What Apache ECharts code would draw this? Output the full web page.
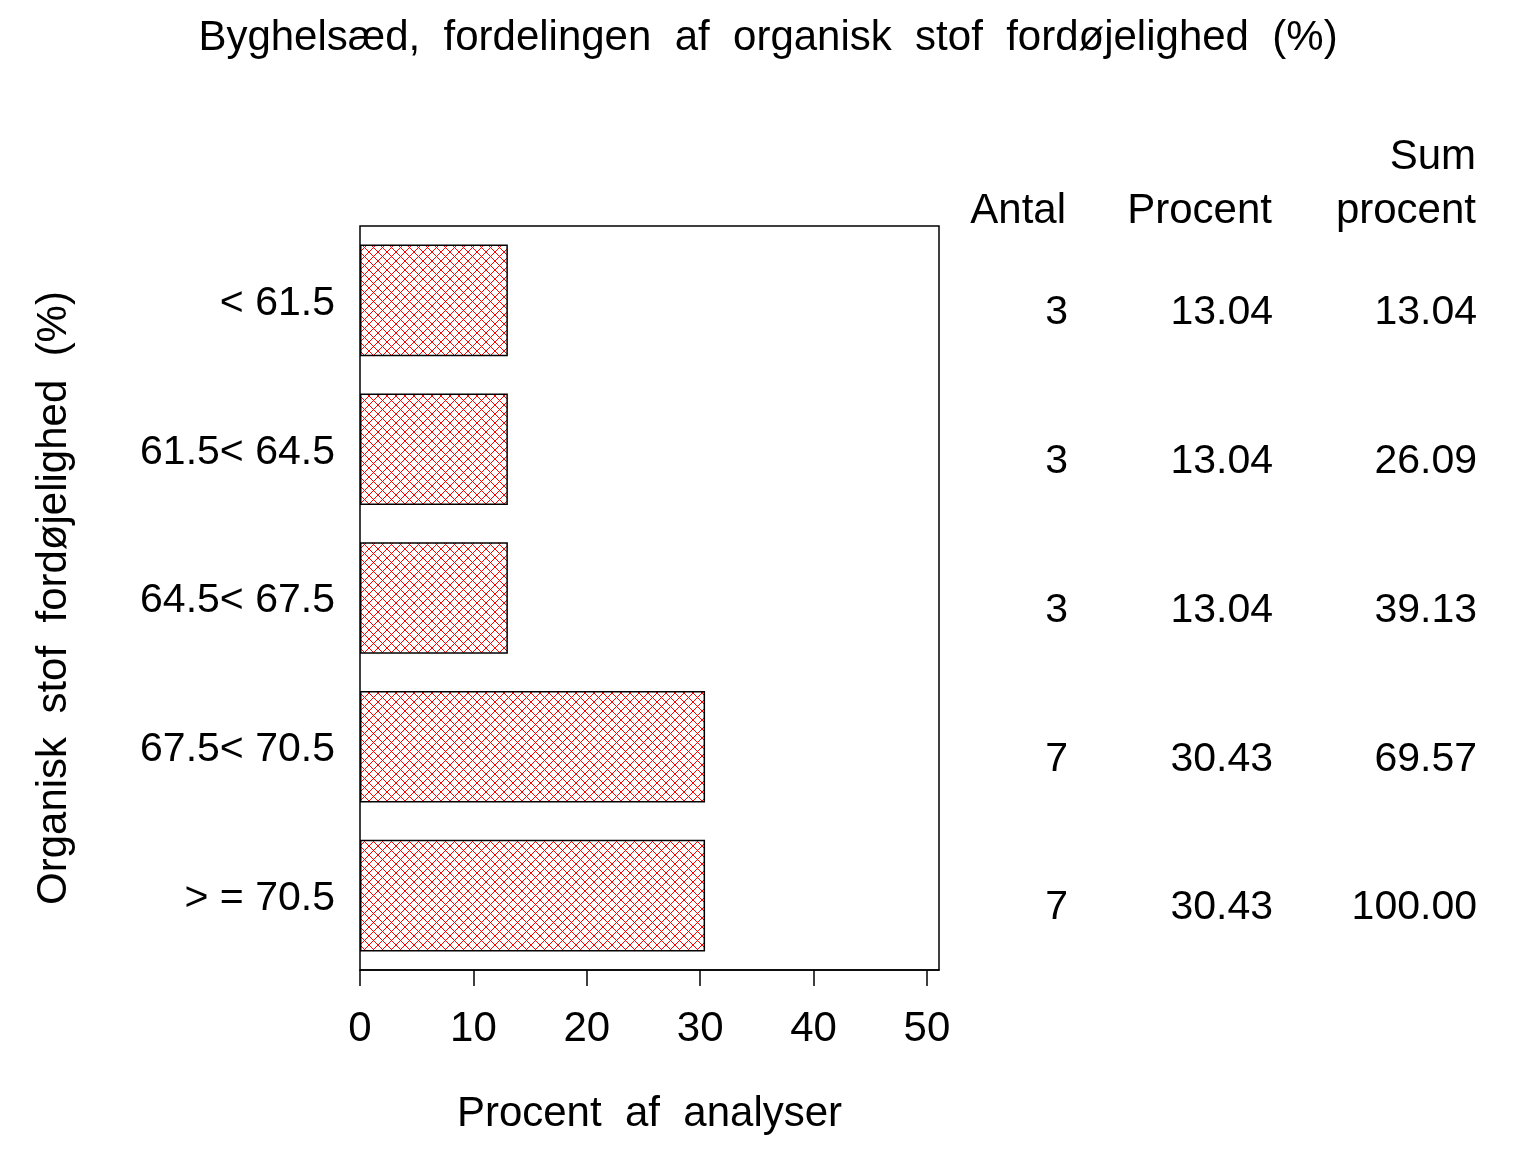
<!DOCTYPE html>
<html>
<head>
<meta charset="utf-8">
<title>Byghelsæd</title>
<script src="https://cdn.jsdelivr.net/npm/echarts@6/dist/echarts.min.js"></script>
<style>
  html, body { margin: 0; padding: 0; background: #fff; }
  #main { width: 1536px; height: 1152px; }
</style>
</head>
<body>
<div id="main"></div>
<script>
// intervaller for organisk stof fordøjelighed
var categories = ['< 61.5', '61.5< 64.5', '64.5< 67.5', '67.5< 70.5', '> = 70.5'];
var procent = [13.04, 13.04, 13.04, 30.43, 30.43];
var antal = [3, 3, 3, 7, 7];
var sumProcent = [13.04, 26.09, 39.13, 69.57, 100.00];
var xTicks = [0, 10, 20, 30, 40, 50];

var FONT = '"Liberation Sans", Arial, Helvetica, sans-serif';

// rødt krydsskraveret mønster til søjlerne
function hatch() {
  var c = document.createElement('canvas');
  c.width = 9;
  c.height = 9;
  var ctx = c.getContext('2d');
  ctx.fillStyle = '#fff';
  ctx.fillRect(0, 0, 9, 9);
  ctx.strokeStyle = '#ff0000';
  ctx.lineWidth = 1;
  ctx.beginPath();
  ctx.moveTo(0, 0); ctx.lineTo(9, 9);
  ctx.moveTo(9, 0); ctx.lineTo(0, 9);
  ctx.stroke();
  return c;
}

// en kolonne i tabellen til højre = en ekstra kategori-akse
function tableAxis(offset, values) {
  return {
    type: 'category',
    data: categories,
    inverse: true,
    position: 'right',
    offset: offset,
    axisLine: { show: false },
    axisTick: { show: false },
    axisLabel: {
      inside: true,
      margin: 0,
      color: '#000',
      fontFamily: FONT,
      fontSize: 41,
      verticalAlign: 'top',
      lineHeight: 25,
      formatter: function (v, i) { return values[i]; }
    }
  };
}

var chart = echarts.init(document.getElementById('main'));

var option = {
  backgroundColor: '#ffffff',
  animation: false,
  title: {
    text: 'Byghelsæd,  fordelingen  af  organisk  stof  fordøjelighed  (%)',
    left: 'center',
    top: 12,
    textStyle: { color: '#000', fontFamily: FONT, fontSize: 42, fontWeight: 'normal' }
  },
  grid: {
    left: 360,
    top: 226,
    width: 579,
    height: 744,
    show: true,
    borderColor: '#000',
    borderWidth: 1.5,
    backgroundColor: 'transparent'
  },
  xAxis: {
    type: 'value',
    min: 0,
    max: 51.06,
    name: 'Procent  af  analyser',
    nameLocation: 'middle',
    nameGap: 123,
    nameTextStyle: { color: '#000', fontFamily: FONT, fontSize: 42 },
    splitLine: { show: false },
    axisLine: { show: true, lineStyle: { color: '#000', width: 1.5 } },
    axisTick: { show: true, length: 16, customValues: xTicks, lineStyle: { color: '#000', width: 1.5 } },
    axisLabel: { customValues: xTicks, margin: 38, color: '#000', fontFamily: FONT, fontSize: 42 }
  },
  yAxis: [
    {
      type: 'category',
      data: categories,
      inverse: true,
      name: 'Organisk  stof  fordøjelighed  (%)',
      nameLocation: 'middle',
      nameGap: 285,
      nameRotate: 90,
      nameTextStyle: { color: '#000', fontFamily: FONT, fontSize: 42 },
      axisLine: { show: false },
      axisTick: { show: false },
      axisLabel: { margin: 25, color: '#000', fontFamily: FONT, fontSize: 41, verticalAlign: 'top', lineHeight: 6 }
    },
    tableAxis(129, antal),
    tableAxis(334, procent.map(function (v) { return v.toFixed(2); })),
    tableAxis(538, sumProcent.map(function (v) { return v.toFixed(2); }))
  ],
  graphic: [
    { type: 'text', x: 1066, y: 211, style: { text: 'Antal', align: 'right', verticalAlign: 'middle', fill: '#000', font: '42px ' + FONT } },
    { type: 'text', x: 1272, y: 211, style: { text: 'Procent', align: 'right', verticalAlign: 'middle', fill: '#000', font: '42px ' + FONT } },
    { type: 'text', x: 1476, y: 157, style: { text: 'Sum', align: 'right', verticalAlign: 'middle', fill: '#000', font: '42px ' + FONT } },
    { type: 'text', x: 1476, y: 211, style: { text: 'procent', align: 'right', verticalAlign: 'middle', fill: '#000', font: '42px ' + FONT } }
  ],
  series: [{
    type: 'bar',
    yAxisIndex: 0,
    data: procent,
    barWidth: '75%',
    itemStyle: {
      color: { image: hatch(), repeat: 'repeat' },
      borderColor: '#000',
      borderWidth: 1.5
    }
  }]
};

chart.setOption(option);
</script>
</body>
</html>
